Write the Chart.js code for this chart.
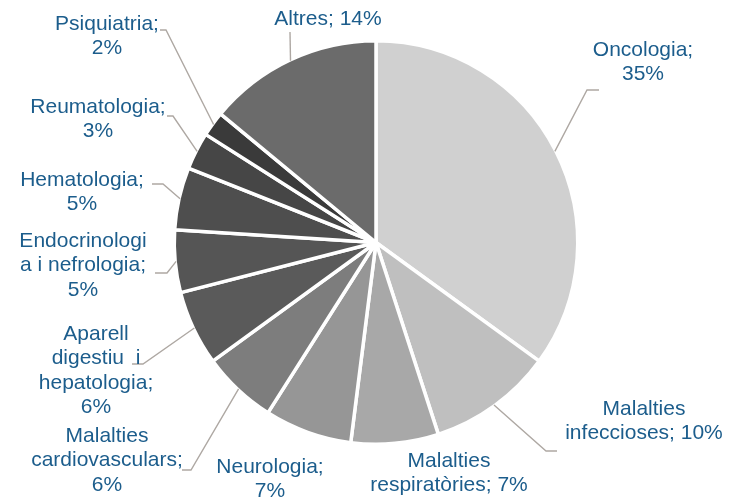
<!DOCTYPE html>
<html>
<head>
<meta charset="utf-8">
<script src="https://cdn.jsdelivr.net/npm/chart.js@4/dist/chart.umd.min.js"></script>
<style>
  html, body { margin: 0; padding: 0; background: #ffffff; }
  #wrap { width: 741px; height: 499px; position: relative; }
</style>
</head>
<body>
<div id="wrap"><canvas id="c" width="741" height="499"></canvas></div>
<script>
// ---- Data ----
const categories = [
  "Oncologia",
  "Malalties infeccioses",
  "Malalties respiratòries",
  "Neurologia",
  "Malalties cardiovasculars",
  "Aparell digestiu  i hepatologia",
  "Endocrinologia i nefrologia",
  "Hematologia",
  "Reumatologia",
  "Psiquiatria",
  "Altres"
];
const values = [35, 10, 7, 7, 6, 6, 5, 5, 3, 2, 14];
const sliceColors = [
  "#d0d0d0", "#bfbfbf", "#a8a8a8", "#969696", "#7d7d7d",
  "#5a5a5a", "#555555", "#4e4e4e", "#464646", "#3a3a3a", "#6b6b6b"
];
// Label text lines as shown in the picture (category; value%)
const labelLines = [
  ["Oncologia;", "35%"],
  ["Malalties", "infeccioses; 10%"],
  ["Malalties", "respiratòries; 7%"],
  ["Neurologia;", "7%"],
  ["Malalties", "cardiovasculars;", "6%"],
  ["Aparell", "digestiu  i", "hepatologia;", "6%"],
  ["Endocrinologi", "a i nefrologia;", "5%"],
  ["Hematologia;", "5%"],
  ["Reumatologia;", "3%"],
  ["Psiquiatria;", "2%"],
  ["Altres; 14%"]
];

// ---- Label layout (positions: styling only) ----
// x,y : centre of first text line; elbow/end : leader line path (null = no leader)
const labelLayout = [
  { x: 643, y: 50,  elbow: [587, 90],  end: [599, 90] },
  { x: 644, y: 409, elbow: [546, 451], end: [557, 451] },
  { x: 449, y: 461, elbow: null },
  { x: 270, y: 467, elbow: null },
  { x: 107, y: 436, elbow: [191, 470], end: [182, 470] },
  { x: 96,  y: 334, elbow: [143, 364], end: [132, 364] },
  { x: 83,  y: 241, elbow: [167, 273], end: [155, 273] },
  { x: 82,  y: 180, elbow: [163, 184], end: [152, 184] },
  { x: 98,  y: 107, elbow: [173, 116], end: [167, 116] },
  { x: 107, y: 24,  elbow: [166, 30],  end: [160, 30] },
  { x: 328, y: 19,  elbow: [290, 32],  end: [290, 32] }
];

const pieLabels = {
  id: 'pieLabels',
  afterDatasetsDraw(chart) {
    const ctx = chart.ctx;
    const meta = chart.getDatasetMeta(0);
    ctx.save();
    meta.data.forEach((arc, i) => {
      const lay = labelLayout[i];
      const p = arc.getProps(['x', 'y', 'startAngle', 'endAngle', 'outerRadius'], true);
      const mid = (p.startAngle + p.endAngle) / 2;
      if (lay.elbow) {
        const sx = p.x + Math.cos(mid) * (p.outerRadius - 1);
        const sy = p.y + Math.sin(mid) * (p.outerRadius - 1);
        ctx.beginPath();
        ctx.strokeStyle = '#aea8a3';
        ctx.lineWidth = 1.4;
        ctx.moveTo(sx, sy);
        ctx.lineTo(lay.elbow[0], lay.elbow[1]);
        ctx.lineTo(lay.end[0], lay.end[1]);
        ctx.stroke();
      }
      ctx.fillStyle = '#1c5d8c';
      ctx.font = '21px "Liberation Sans", Arial, sans-serif';
      ctx.textAlign = 'center';
      ctx.textBaseline = 'middle';
      labelLines[i].forEach((t, k) => {
        ctx.fillText(t, lay.x, lay.y + k * 24.5);
      });
    });
    ctx.restore();
  }
};

new Chart(document.getElementById('c'), {
  type: 'pie',
  data: {
    labels: categories,
    datasets: [{
      data: values,
      backgroundColor: sliceColors,
      borderColor: '#ffffff',
      borderWidth: 3.5
    }]
  },
  options: {
    responsive: false,
    animation: false,
    layout: { padding: { left: 172.5, right: 161.5, top: 39, bottom: 53 } },
    plugins: {
      legend: { display: false },
      tooltip: { enabled: false }
    }
  },
  plugins: [pieLabels]
});
</script>
</body>
</html>
